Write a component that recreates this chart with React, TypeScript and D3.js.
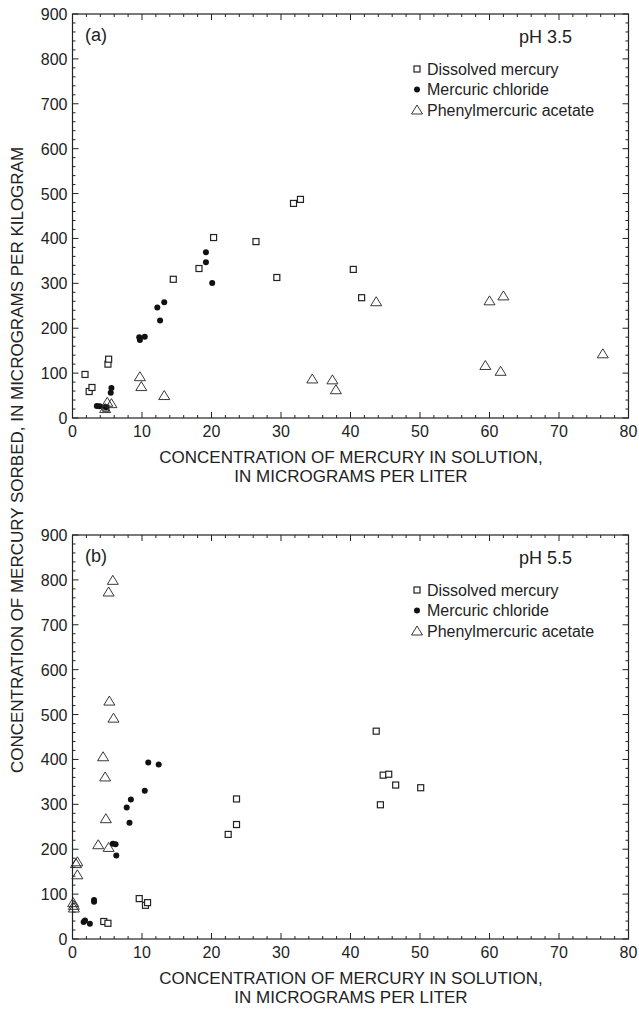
import { useEffect, useRef } from "react";
import * as d3 from "d3";

// panel (a) pH 3.5
const aDissolvedX = [1.8, 2.4, 2.8, 4.8, 5.1, 5.2, 14.5, 18.2, 20.3, 26.4, 29.4, 31.8, 32.8, 40.4, 41.6];
const aDissolvedY = [97, 59, 68, 22, 120, 131, 309, 333, 402, 393, 313, 478, 487, 331, 268];
const aChlorideX = [3.5, 3.9, 4.8, 5.5, 5.6, 9.6, 9.7, 10.4, 12.2, 12.6, 13.2, 19.2, 19.2, 20.1];
const aChlorideY = [27, 26, 24, 56, 67, 180, 174, 181, 246, 217, 258, 369, 347, 301];
const aAcetateX = [4.7, 5.0, 5.6, 9.7, 9.9, 13.2, 34.5, 37.4, 37.9, 43.7, 59.4, 60.0, 61.6, 62.0, 76.3];
const aAcetateY = [21, 35, 32, 92, 70, 50, 87, 85, 63, 259, 117, 261, 104, 272, 143];

// panel (b) pH 5.5
const bDissolvedX = [4.5, 5.1, 9.6, 10.5, 10.8, 22.4, 23.6, 23.6, 43.7, 44.3, 44.7, 45.5, 46.5, 50.1];
const bDissolvedY = [39, 35, 90, 75, 81, 233, 255, 312, 463, 299, 365, 367, 343, 337];
const bChlorideX = [1.6, 1.8, 2.5, 3.1, 3.1, 5.8, 6.2, 6.3, 7.8, 8.2, 8.4, 10.4, 10.9, 12.4];
const bChlorideY = [38, 41, 34, 87, 83, 212, 211, 186, 293, 259, 311, 330, 393, 389];
const bAcetateX = [0.1, 0.2, 0.2, 0.5, 0.7, 0.7, 3.7, 4.4, 4.7, 4.8, 5.2, 5.2, 5.3, 5.8, 5.9];
const bAcetateY = [81, 75, 69, 168, 172, 143, 210, 406, 361, 268, 204, 773, 530, 799, 492];

const legendLabels = ["Dissolved mercury", "Mercuric chloride", "Phenylmercuric acetate"];
const xTickValues = [0, 10, 20, 30, 40, 50, 60, 70, 80];
const yTickValues = [0, 100, 200, 300, 400, 500, 600, 700, 800, 900];

const panels = [
  {
    tag: "(a)", ph: "pH 3.5", top: 14, bottom: 418,
    series: [
      { kind: "square", xs: aDissolvedX, ys: aDissolvedY },
      { kind: "circle", xs: aChlorideX, ys: aChlorideY },
      { kind: "triangle", xs: aAcetateX, ys: aAcetateY },
    ],
  },
  {
    tag: "(b)", ph: "pH 5.5", top: 535, bottom: 939,
    series: [
      { kind: "square", xs: bDissolvedX, ys: bDissolvedY },
      { kind: "circle", xs: bChlorideX, ys: bChlorideY },
      { kind: "triangle", xs: bAcetateX, ys: bAcetateY },
    ],
  },
];

const W = 639;
const H = 1011;
const left = 72.5;
const right = 628.5;
const ink = "#222";
const font = "Liberation Sans, Arial, Helvetica, sans-serif";

const drawMarker = (g: any, kind: string, x: number, y: number) => {
  if (kind === "square") {
    g.append("rect").attr("x", x - 3).attr("y", y - 3).attr("width", 6).attr("height", 6)
      .attr("fill", "#fff").attr("stroke", ink).attr("stroke-width", 1.2);
  } else if (kind === "circle") {
    g.append("circle").attr("cx", x).attr("cy", y).attr("r", 3).attr("fill", "#111");
  } else {
    const s = 5;
    g.append("path")
      .attr("d", `M${x},${y - s}L${x + s * 1.1},${y + s * 0.8}L${x - s * 1.1},${y + s * 0.8}Z`)
      .attr("fill", "none").attr("stroke", ink).attr("stroke-width", 0.9);
  }
};

export default function App() {
  const ref = useRef<SVGSVGElement>(null);

  useEffect(() => {
    const svg = d3.select(ref.current);
    svg.selectAll("*").remove();
    svg.append("rect").attr("width", W).attr("height", H).attr("fill", "#fff");

    const x = d3.scaleLinear().domain([0, 80]).range([left, right]);

    panels.forEach((p) => {
      const y = d3.scaleLinear().domain([0, 900]).range([p.bottom, p.top]);
      const g = svg.append("g");

      // frame
      g.append("rect").attr("x", left).attr("y", p.top).attr("width", right - left)
        .attr("height", p.bottom - p.top).attr("fill", "none").attr("stroke", ink).attr("stroke-width", 1.2);

      // ticks, inward on all four sides
      d3.range(0, 81, 2).forEach((v) => {
        const len = v % 10 === 0 ? 6 : 3;
        g.append("line").attr("x1", x(v)).attr("x2", x(v)).attr("y1", p.bottom).attr("y2", p.bottom - len)
          .attr("stroke", ink).attr("stroke-width", 1);
        g.append("line").attr("x1", x(v)).attr("x2", x(v)).attr("y1", p.top).attr("y2", p.top + len)
          .attr("stroke", ink).attr("stroke-width", 1);
      });
      d3.range(0, 901, 20).forEach((v) => {
        const len = v % 100 === 0 ? 6 : 3;
        g.append("line").attr("x1", left).attr("x2", left + len).attr("y1", y(v)).attr("y2", y(v))
          .attr("stroke", ink).attr("stroke-width", 1);
        g.append("line").attr("x1", right).attr("x2", right - len).attr("y1", y(v)).attr("y2", y(v))
          .attr("stroke", ink).attr("stroke-width", 1);
      });

      xTickValues.forEach((v) => {
        g.append("text").attr("x", x(v)).attr("y", p.bottom + 19).attr("text-anchor", "middle")
          .attr("font-family", font).attr("font-size", 16).attr("fill", ink).text(v);
      });
      yTickValues.forEach((v) => {
        g.append("text").attr("x", left - 5).attr("y", y(v) + 6).attr("text-anchor", "end")
          .attr("font-family", font).attr("font-size", 16).attr("fill", ink).text(v);
      });

      g.append("text").attr("x", 351).attr("y", p.bottom + 45).attr("text-anchor", "middle")
        .attr("font-family", font).attr("font-size", 17).attr("fill", ink)
        .text("CONCENTRATION OF MERCURY IN SOLUTION,");
      g.append("text").attr("x", 351).attr("y", p.bottom + 64).attr("text-anchor", "middle")
        .attr("font-family", font).attr("font-size", 17).attr("fill", ink)
        .text("IN MICROGRAMS PER LITER");

      g.append("text").attr("x", 85).attr("y", p.top + 27).attr("font-family", font)
        .attr("font-size", 18).attr("fill", ink).text(p.tag);
      g.append("text").attr("x", 572).attr("y", p.top + 29).attr("text-anchor", "end")
        .attr("font-family", font).attr("font-size", 18).attr("fill", ink).text(p.ph);

      legendLabels.forEach((lab, i) => {
        const ly = p.top + 55 + i * 20.5;
        drawMarker(g, p.series[i].kind, 417, ly);
        g.append("text").attr("x", 427).attr("y", ly + 5.5).attr("font-family", font)
          .attr("font-size", 16).attr("fill", ink).text(lab);
      });

      p.series.forEach((s) => {
        s.xs.forEach((v, i) => drawMarker(g, s.kind, x(v), y(s.ys[i])));
      });
    });

    svg.append("text").attr("transform", `translate(23,460) rotate(-90)`)
      .attr("text-anchor", "middle").attr("font-family", font).attr("font-size", 17).attr("fill", ink)
      .text("CONCENTRATION OF MERCURY SORBED, IN MICROGRAMS PER KILOGRAM");
  }, []);

  return (
    <svg ref={ref} width={W} height={H} style={{ position: "absolute", left: 0, top: 0 }} />
  );
}
